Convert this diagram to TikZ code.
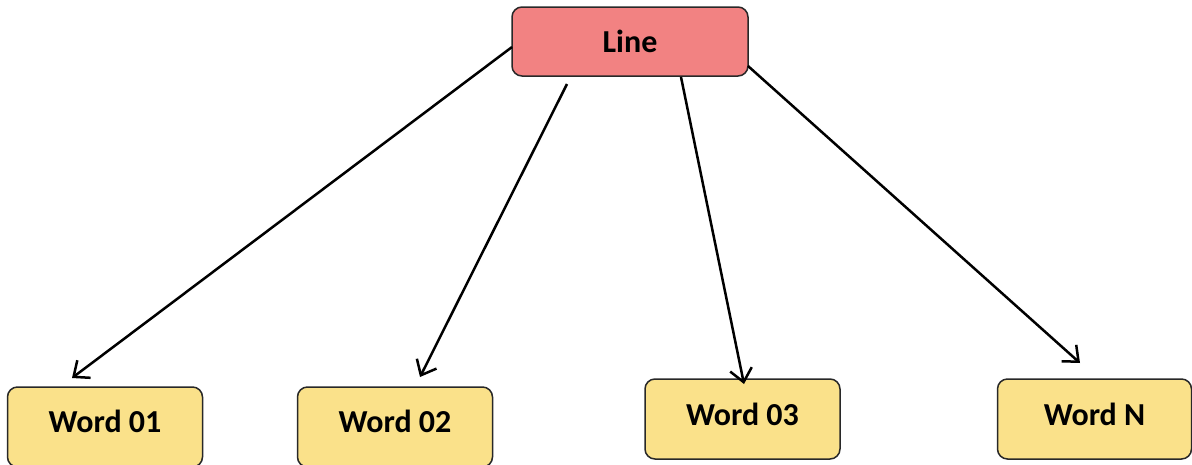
\documentclass[tikz,border=0pt]{standalone}
\usepackage{fontspec}
\setmainfont{Carlito}
\usetikzlibrary{arrows.meta}
\definecolor{linefill}{RGB}{242,130,130}
\definecolor{wordfill}{RGB}{250,225,138}
\definecolor{edge}{RGB}{40,40,40}
\tikzset{
  labelfont/.style={font=\fontsize{32}{38}\selectfont\bfseries, text=black, inner sep=0pt},
  box/.style={draw=edge, line width=1.5pt, rounded corners=10pt, inner sep=0pt},
  headbox/.style={box, labelfont, fill=linefill, minimum width=236pt, minimum height=69pt},
  wordbox/.style={box, fill=wordfill, minimum width=195pt, minimum height=80pt},
  arr/.style={draw=black, line width=2.5pt, -{Straight Barb[length=13pt, width=22pt, line width=2.5pt]}}
}
\begin{document}
\begin{tikzpicture}[x=1pt, y=-1pt]
  \path[use as bounding box] (0,0) rectangle (1192,464);
  \clip (0,0) rectangle (1192,464);

  % top node
  \node[headbox] (line) at (630,41.5) {Line};

  % word boxes and their captions
  \node[wordbox] (w1) at (105,427) {};
  \node[labelfont] (t1) at (105,421) {Word 01};
  \node[wordbox] (w2) at (395,427) {};
  \node[labelfont] (t2) at (395,421) {Word 02};
  \node[wordbox] (w3) at (742.5,419) {};
  \node[labelfont] (t3) at (742.5,414) {Word 03};
  \node[wordbox, minimum width=194pt] (wn) at (1094.5,419) {};
  \node[labelfont] (tn) at (1094.5,414) {Word N};

  % free ends of the connectors
  \coordinate (s1) at (512,47);
  \coordinate (e1) at (72,378);
  \coordinate (s2) at (567,84);
  \coordinate (e2) at (420,377);
  \coordinate (s3) at (681,77);
  \coordinate (e3) at (744,384);
  \coordinate (s4) at (748,66);
  \coordinate (e4) at (1080,363);

  \draw[arr] (s1) -- (e1);
  \draw[arr] (s2) -- (e2);
  \draw[arr] (s3) -- (e3);
  \draw[arr] (s4) -- (e4);
\end{tikzpicture}
\end{document}
